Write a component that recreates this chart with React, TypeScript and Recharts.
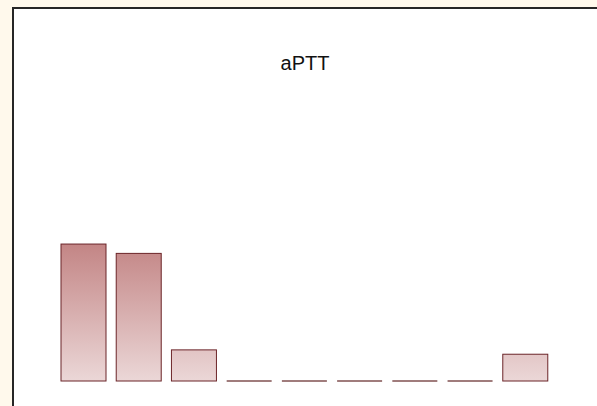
import React from "react";
import { BarChart, Bar, XAxis, YAxis } from "recharts";

const categories = ["1", "2", "3", "4", "5", "6", "7", "8", "9"];
const counts = [44, 41, 10, 0, 0, 0, 0, 0, 8.6];
const title = "aPTT";

const data = categories.map((c, i) => ({ name: c, value: counts[i] }));

const BarShape = (props: any) => {
  const { x, y, width, height } = props;
  if (!height || height <= 0) {
    return (
      <line x1={x} x2={x + width} y1={y} y2={y} stroke="#a07c7c" strokeWidth={2} />
    );
  }
  return (
    <rect
      x={x}
      y={y}
      width={width}
      height={height}
      fill="url(#barGrad)"
      stroke="#6b2428"
      strokeWidth={1}
    />
  );
};

export default function App() {
  return (
    <div
      style={{
        position: "absolute",
        left: 0,
        top: 0,
        width: 597,
        height: 406,
        background: "#fff9ec",
        overflow: "hidden",
      }}
    >
      <div
        style={{
          position: "absolute",
          left: 12,
          top: 7,
          width: 600,
          height: 420,
          background: "#ffffff",
          borderLeft: "2px solid #262626",
          borderTop: "2px solid #262626",
        }}
      />
      <div style={{ position: "absolute", left: 0, top: 0 }}>
        <BarChart
          width={597}
          height={406}
          data={data}
          margin={{ top: 132, right: 44, bottom: 25, left: 56 }}
        >
          <defs>
            <linearGradient id="barGrad" gradientUnits="userSpaceOnUse" x1="0" y1="244" x2="0" y2="381">
              <stop offset="0%" stopColor="#c38585" />
              <stop offset="100%" stopColor="#ebd7d7" />
            </linearGradient>
          </defs>
          <XAxis dataKey="name" hide />
          <YAxis hide domain={[0, 80]} />
          <Bar dataKey="value" barSize={45} isAnimationActive={false} shape={BarShape} />
        </BarChart>
      </div>
      <svg width={597} height={406} style={{ position: "absolute", left: 0, top: 0, pointerEvents: "none" }}>
        <text
          x={305}
          y={70}
          textAnchor="middle"
          fontFamily="'Liberation Sans', Arial, sans-serif"
          fontSize={20}
          fill="#111111"
        >
          {title}
        </text>
      </svg>
    </div>
  );
}
